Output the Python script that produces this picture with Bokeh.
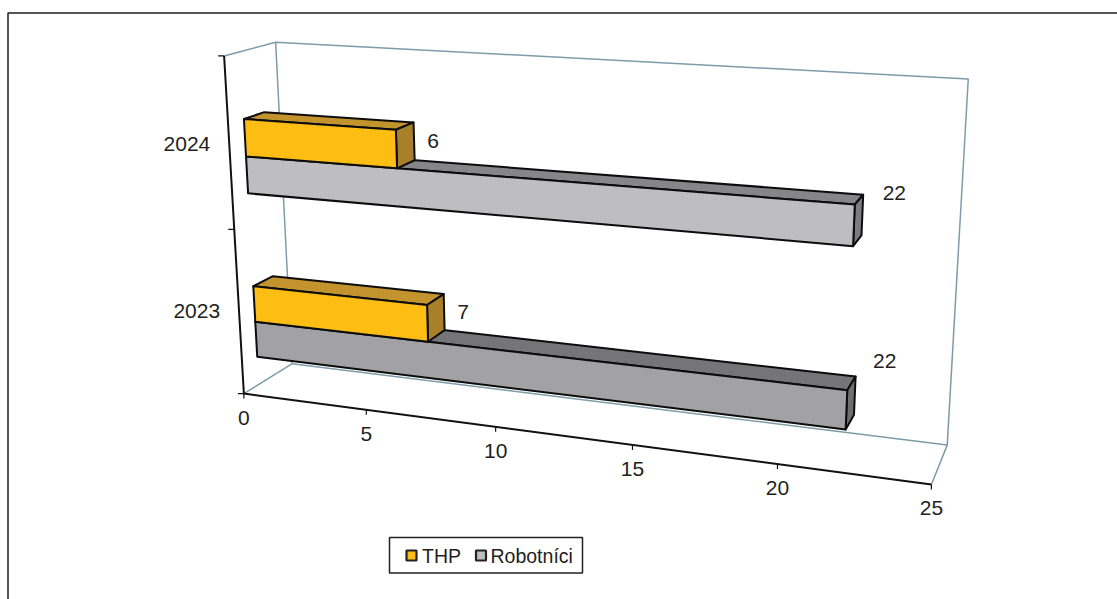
import numpy as np
from bokeh.core.properties import value
from bokeh.embed import file_html
from bokeh.models import Range1d
from bokeh.plotting import figure
from bokeh.resources import INLINE

# Chart data
years = ["2023", "2024"]
series_names = ["THP", "Robotníci"]
thp_values = [7, 6]
robotnici_values = [22, 22]
tick_values = [0, 5, 10, 15, 20, 25]

# Styling
FONT = value("Liberation Sans")
FONT_SIZE = "21px"
TEXT_COLOR = "#231F20"
WALL_COLOR = "#7E9BAA"
GOLD = ("#FDBD12", "#C3942E", "#A8802A")          # front, top, side
GREY_BY_YEAR = {
    "2023": ("#A2A2A4", "#757577", "#6E6E70"),
    "2024": ("#BEBEC0", "#868688", "#7C7C7E"),
}
# Pixel nudges for the long-bar value labels and the year labels
ROBOTNICI_LABEL_OFFSET = {"2023": (30, -35), "2024": (32, -22)}
YEAR_LABEL_DY = {"2023": -2, "2024": 0}

# Camera calibration: box corners (value, category height, depth) and where
# they fall on the page. The projection matrix is solved from these pairs.
V_MAX, H_MAX = 25.0, 2.0
calibration = [
    ((0, 0, 0), (243, 391)), ((5, 0, 0), (365.5, 410)), ((10, 0, 0), (496, 428)),
    ((15, 0, 0), (632, 446)), ((20, 0, 0), (777, 465)), ((25, 0, 0), (930, 482)),
    ((0, 1, 0), (233, 228)), ((0, 2, 0), (225, 55)),
    ((0, 0, 1), (292, 363)), ((25, 0, 1), (947, 444)),
    ((0, 2, 1), (274, 43)), ((25, 2, 1), (968, 78)),
]


def solve_camera(pairs):
    rows = []
    for (v, h, d), (x, y) in pairs:
        X = [v / V_MAX, h / H_MAX, d, 1.0]
        u, w = x / 1000.0, y / 1000.0
        rows.append(X + [0, 0, 0, 0] + [-u * c for c in X])
        rows.append([0, 0, 0, 0] + X + [-w * c for c in X])
    return np.linalg.svd(np.array(rows))[2][-1].reshape(3, 4)


CAMERA = solve_camera(calibration)


def project(v, h, d):
    q = CAMERA @ np.array([v / V_MAX, h / H_MAX, d, 1.0])
    return 1000.0 * q[0] / q[2], 1000.0 * q[1] / q[2]


def polyline(*points):
    xy = [project(*pt) for pt in points]
    return [a for a, _ in xy], [b for _, b in xy]


p = figure(
    width=1117, height=599, output_backend="svg", toolbar_location=None,
    x_range=Range1d(0, 1117), y_range=Range1d(599, 0),
    min_border=0, outline_line_color=None, background_fill_color="white",
)
p.axis.visible = False
p.grid.visible = False

# Page frame: only the left and top edges fall inside the page
p.line([7.5, 7.5, 1117], [599, 12.5, 12.5], line_color="#1E1E1E", line_width=1.5)

# Back wall and floor outline
for seg in [
    [(0, 2, 0), (0, 2, 1), (25, 2, 1), (25, 0, 1), (25, 0, 0)],
    [(0, 2, 1), (0, 0, 1), (25, 0, 1)],
    [(0, 0, 0), (0, 0, 1)],
]:
    xs, ys = polyline(*seg)
    p.line(xs, ys, line_color=WALL_COLOR, line_width=1.5)

# Axis lines and tick marks
xs, ys = polyline((0, 2, 0), (0, 0, 0), (25, 0, 0))
p.line(xs, ys, line_color="#111111", line_width=2)

for t in tick_values:
    x, y = project(t, 0, 0)
    p.line([x, x], [y, y + 5], line_color="#111111", line_width=1.2)
    p.text([x], [y + 24], text=[str(t)], text_font=FONT, text_font_size=FONT_SIZE,
           text_color=TEXT_COLOR, text_align="center", text_baseline="middle")

for h in range(3):
    x, y = project(0, h, 0)
    p.line([x - 6, x], [y, y], line_color="#111111", line_width=1.2)

# Bar geometry inside each category band
BAR_START, BAR_THICK = 0.174, 0.219
D_FRONT, D_BACK = 0.30, 0.70


def draw_box(length, h0, h1, colors):
    faces = [
        ([(0, h1, D_FRONT), (0, h1, D_BACK), (length, h1, D_BACK), (length, h1, D_FRONT)], colors[1]),
        ([(length, h0, D_FRONT), (length, h0, D_BACK), (length, h1, D_BACK), (length, h1, D_FRONT)], colors[2]),
        ([(0, h0, D_FRONT), (length, h0, D_FRONT), (length, h1, D_FRONT), (0, h1, D_FRONT)], colors[0]),
    ]
    for corners, color in faces:
        xs, ys = polyline(*corners)
        p.patch(xs, ys, fill_color=color, line_color="#0C0C0C", line_width=2,
                line_join="round")


# Upper category first so the nearer, lower bars sit on top
for i in reversed(range(len(years))):
    year = years[i]
    h_mid = i + BAR_START + BAR_THICK
    h_top = h_mid + BAR_THICK
    draw_box(robotnici_values[i], i + BAR_START, h_mid, GREY_BY_YEAR[year])
    draw_box(thp_values[i], h_mid, h_top, GOLD)

    x, y = project(thp_values[i], h_mid + BAR_THICK / 2, D_BACK)
    p.text([x], [y], text=[str(thp_values[i])], x_offset=19, y_offset=0, text_font=FONT,
           text_font_size=FONT_SIZE, text_color=TEXT_COLOR, text_align="center",
           text_baseline="middle")
    x, y = project(robotnici_values[i], i + BAR_START + BAR_THICK / 2, D_BACK)
    dx, dy = ROBOTNICI_LABEL_OFFSET[year]
    p.text([x], [y], text=[str(robotnici_values[i])], x_offset=dx, y_offset=dy, text_font=FONT,
           text_font_size=FONT_SIZE, text_color=TEXT_COLOR, text_align="center",
           text_baseline="middle")

    x, y = project(0, i + 0.5, 0)
    p.text([x], [y], text=[year], x_offset=-19, y_offset=YEAR_LABEL_DY[year], text_font=FONT,
           text_font_size=FONT_SIZE, text_color=TEXT_COLOR, text_align="right",
           text_baseline="middle")

# Legend
p.quad(left=[389], right=[582], top=[537], bottom=[572.5], fill_color="white",
       line_color="#222222", line_width=1.5)
legend_x = [(411, 421.5, series_names[0], GOLD[0]), (480.5, 490, series_names[1], GREY_BY_YEAR["2024"][0])]
for cx, tx, name, color in legend_x:
    p.rect([cx], [555], width=10, height=10, fill_color=color, line_color="#222222", line_width=2.2)
    p.text([tx], [555], text=[name], text_font=FONT, text_font_size="19.5px",
           text_color=TEXT_COLOR, text_align="left", text_baseline="middle")

open("out.html", "w").write(file_html(p, INLINE))
